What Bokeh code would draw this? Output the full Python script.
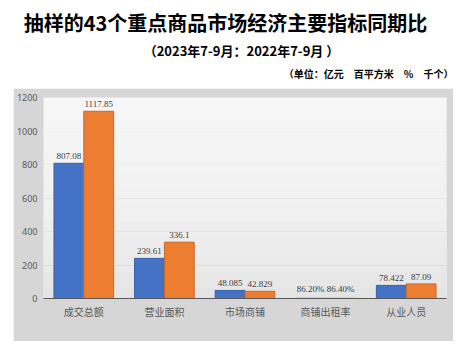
from bokeh.plotting import figure
from bokeh.models import (ColumnDataSource, LabelSet, Legend, LegendItem, FactorRange,
                          BoxAnnotation, Label)
from bokeh.layouts import column
from bokeh.transform import dodge
from bokeh.embed import file_html
from bokeh.resources import INLINE

categories = ["成交总额", "营业面积", "市场商铺", "商铺出租率", "从业人员"]
series_names = ["2023年7-9月", "2022年7-9月"]
values_2023 = [807.08, 239.61, 48.085, 0.862, 78.422]
values_2022 = [1117.85, 336.1, 42.829, 0.864, 87.09]
labels_2023 = ["807.08", "239.61", "48.085", "86.20%", "78.422"]
labels_2022 = ["1117.85", "336.1", "42.829", "86.40%", "87.09"]
y_ticks = [0, 200, 400, 600, 800, 1000, 1200]

title_text = "抽样的43个重点商品市场经济主要指标同期比"
subtitle_text = "（2023年7-9月：2022年7-9月 ）"
unit_text = "（单位：亿元　百平方米　%　千个）"

CJK = "Noto Sans CJK SC"
BLUE = "#4472C4"
ORANGE = "#ED7D31"

# ---- title figure ----
t = figure(width=469, height=88, x_range=(0, 469), y_range=(88, 0),
           x_axis_location=None, y_axis_location=None,
           output_backend="svg", toolbar_location=None,
           min_border_left=0, min_border_right=0, min_border_top=0, min_border_bottom=0)
t.frame_align = False
t.grid.grid_line_color = None
t.outline_line_color = None
t.background_fill_color = "white"
t.border_fill_color = "white"
for txt, x, y, size, align in ((title_text, 225, 22, "20px", "center"),
                               (subtitle_text, 241, 50, "13px", "center"),
                               (unit_text, 453, 73, "10px", "right")):
    t.add_layout(Label(x=x, y=y, text=txt, text_font=CJK, text_font_style="bold",
                       text_font_size=size, text_align=align, text_baseline="middle",
                       text_color="#000000"))

# ---- main chart ----
src = ColumnDataSource(dict(cat=categories, a=values_2023, b=values_2022,
                            la=labels_2023, lb=labels_2022))

p = figure(width=440, height=253, x_range=FactorRange(*categories), y_range=(0, 1200),
           output_backend="svg", toolbar_location=None,
           min_border_left=29, min_border_right=7, min_border_top=9, min_border_bottom=43)
p.frame_align = False
p.margin = (0, 16, 12, 13)
p.border_fill_color = "#d6d6d6"
p.background_fill_color = "#e4e4e4"
p.outline_line_color = None

for b in (60, 160, 260, 360, 460, 560, 660, 760, 860, 960, 1060):
    p.add_layout(BoxAnnotation(bottom=b, fill_color="white", fill_alpha=0.12,
                               line_color=None, level="underlay"))

p.xgrid.grid_line_color = None
p.ygrid.grid_line_color = "#d0d0d0"
p.ygrid.ticker = y_ticks
p.yaxis.ticker = y_ticks
p.yaxis.axis_line_color = None
p.yaxis.major_tick_line_color = None
p.yaxis.minor_tick_line_color = None
p.yaxis.major_tick_out = 0
p.yaxis.major_tick_in = 0
p.yaxis.major_label_text_font = "Noto Sans"
p.yaxis.major_label_text_font_size = "9px"
p.yaxis.major_label_text_color = "#595959"
p.yaxis.major_label_standoff = 6

p.xaxis.axis_line_color = "#595959"
p.xaxis.major_tick_line_color = None
p.xaxis.minor_tick_line_color = None
p.xaxis.major_tick_out = 0
p.xaxis.major_tick_in = 0
p.xaxis.major_label_text_font = CJK
p.xaxis.major_label_text_font_size = "10px"
p.xaxis.major_label_text_color = "#595959"
p.xaxis.major_label_standoff = 5
p.x_range.range_padding = 0

w = 0.37
r1 = p.vbar(x=dodge("cat", -0.185, range=p.x_range), top="a", width=w, source=src,
            fill_color=BLUE, line_color="#3a62a8", line_width=1)
r2 = p.vbar(x=dodge("cat", 0.185, range=p.x_range), top="b", width=w, source=src,
            fill_color=ORANGE, line_color="#c9692a", line_width=1)

for col, txt, off in (("a", "la", -0.185), ("b", "lb", 0.185)):
    p.add_layout(LabelSet(x=dodge("cat", off, range=p.x_range), y=col, text=txt, source=src,
                          text_align="center", text_baseline="bottom", y_offset=4,
                          text_font="Liberation Sans", text_font_size="9px",
                          text_color="#404040"))

legend = Legend(items=[LegendItem(label=series_names[0], renderers=[r1]),
                       LegendItem(label=series_names[1], renderers=[r2])],
                orientation="horizontal", location=(134, -40),
                label_text_font=CJK, label_text_font_size="8.5px", label_text_color="#404040",
                glyph_width=8, glyph_height=8, spacing=4, label_standoff=2,
                label_height=13, padding=2, margin=0, background_fill_color="white",
                background_fill_alpha=0.6, border_line_color=None)
p.add_layout(legend)

layout = column(t, p, spacing=0)
open("out.html", "w").write(file_html(layout, INLINE))
